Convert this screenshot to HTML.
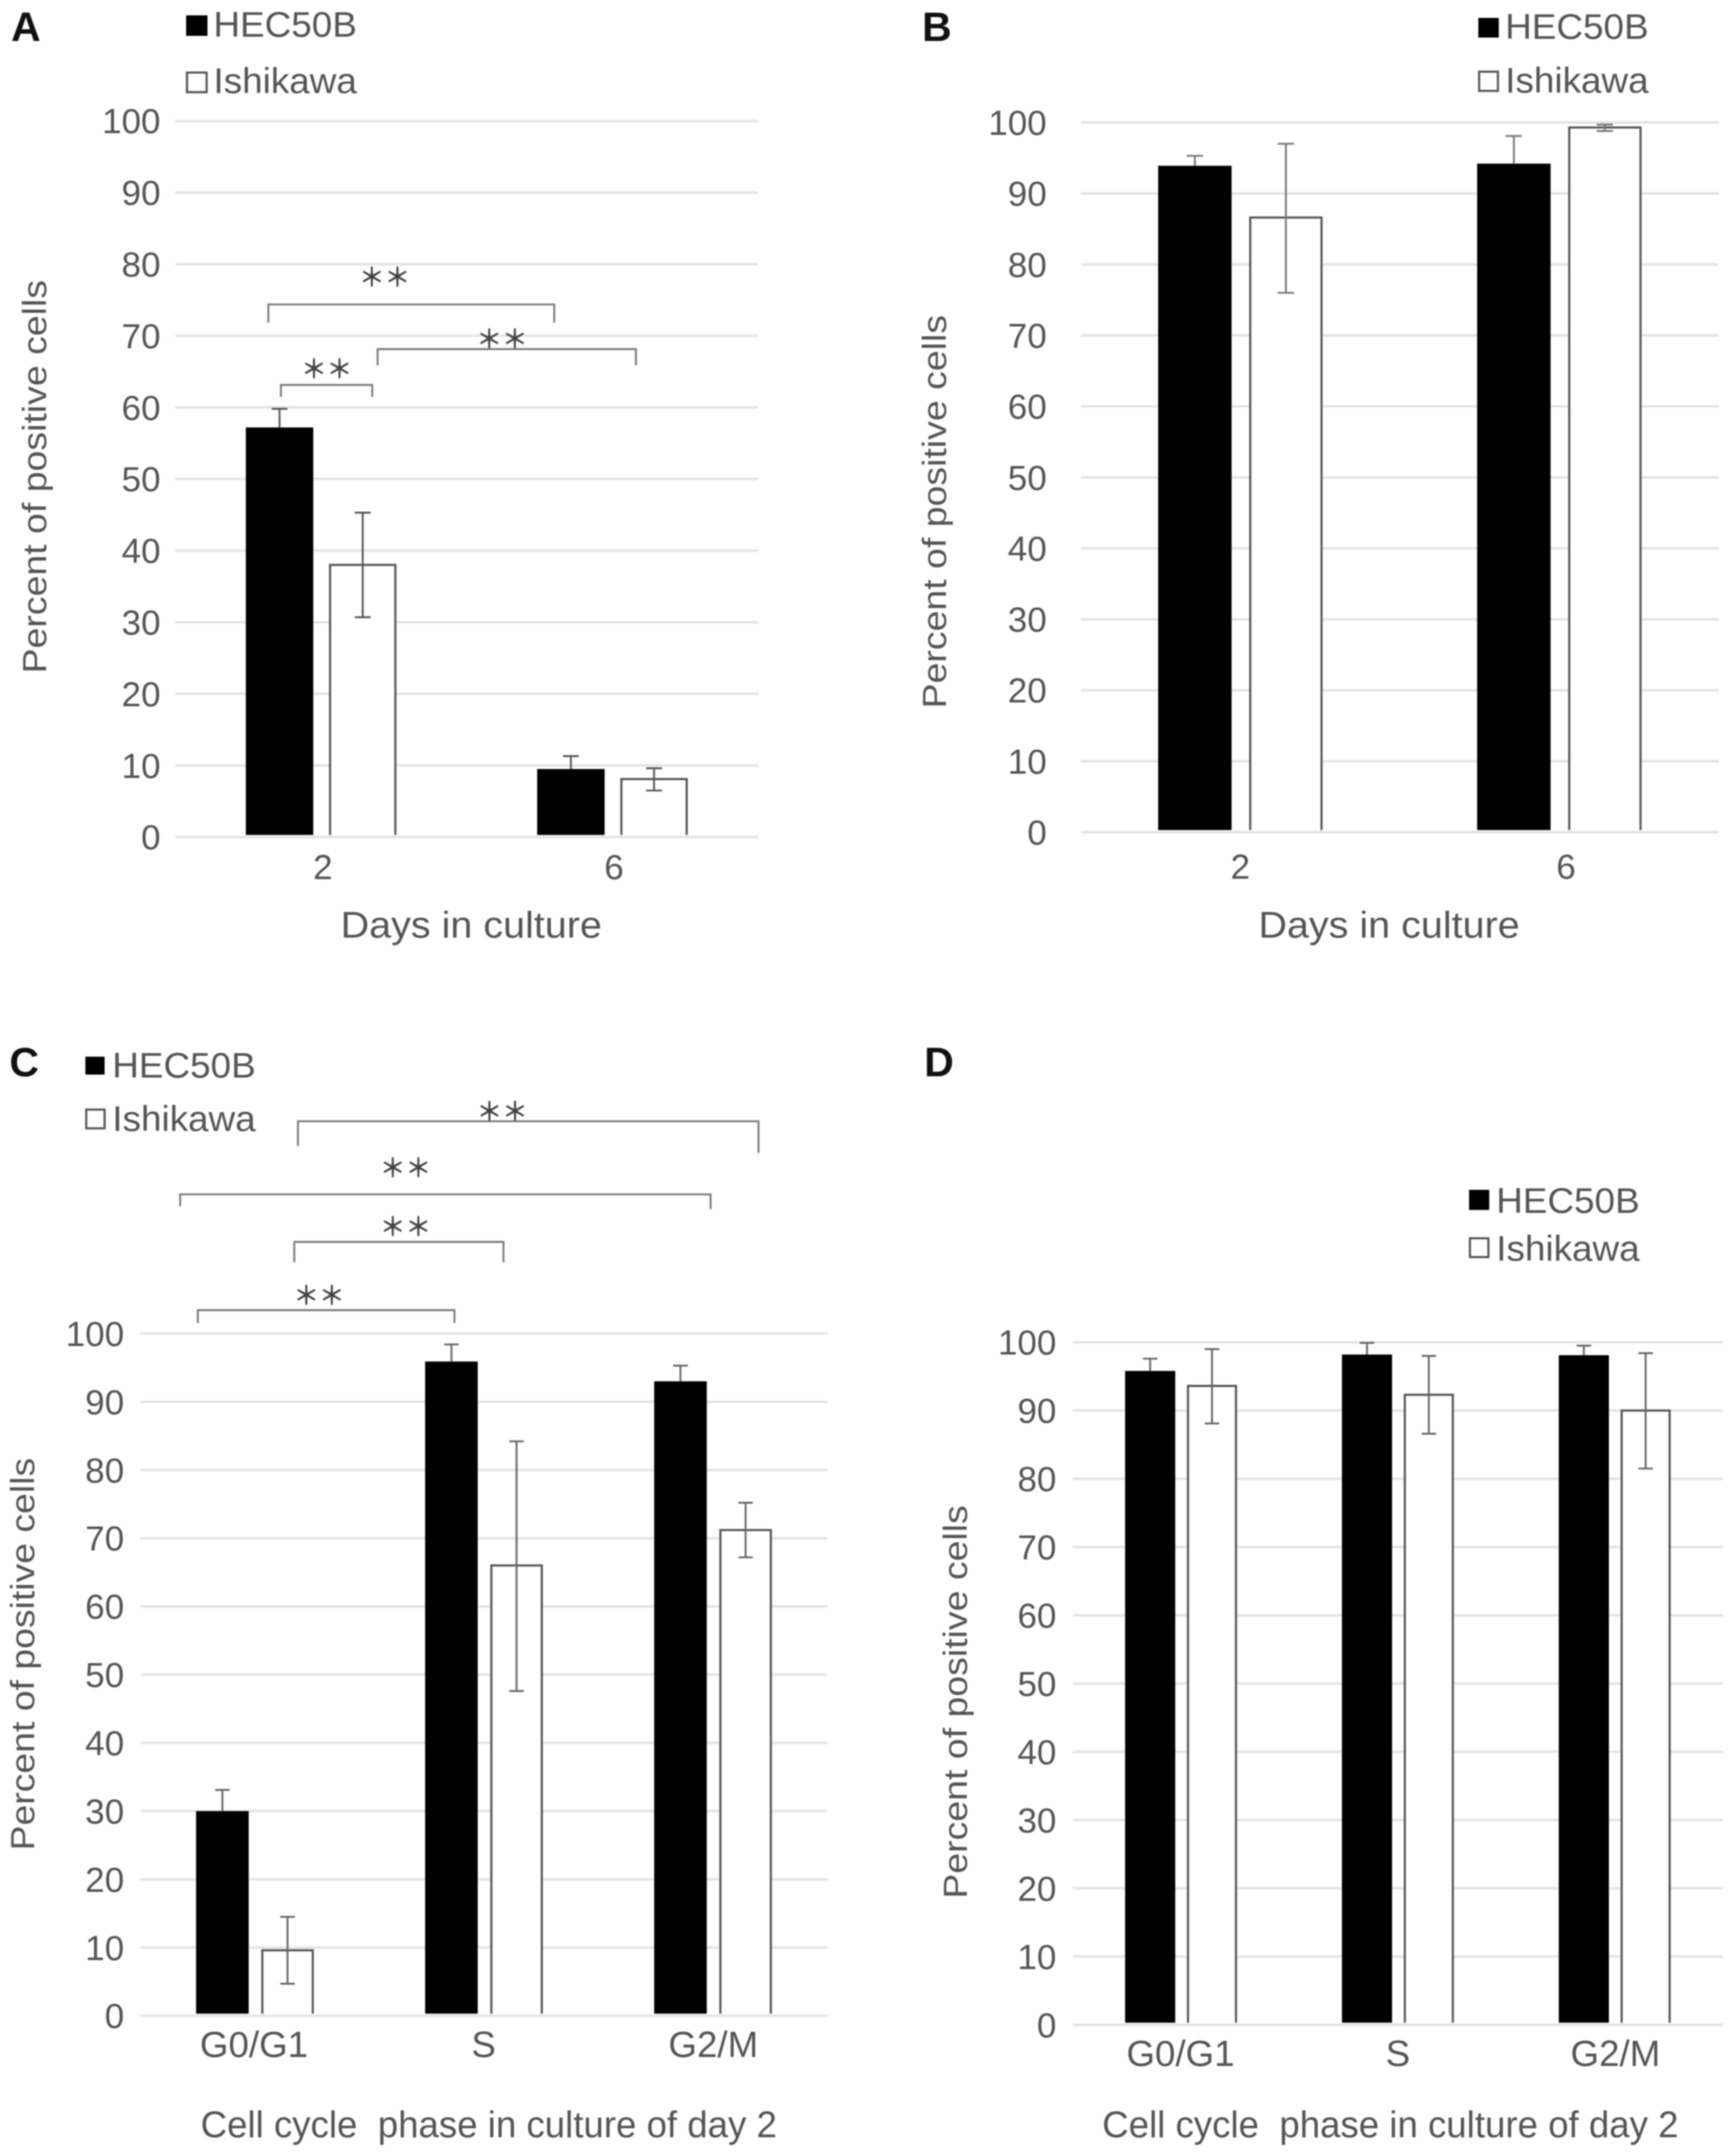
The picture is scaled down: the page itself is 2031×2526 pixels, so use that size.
<!DOCTYPE html>
<html lang="en">
<head>
<meta charset="utf-8">
<title>Percent of positive cells by cell line</title>
<style>
  html, body { margin: 0; padding: 0; background: #fff; }
  svg { display: block; filter: blur(0.7px); }
  text { font-family: "Liberation Sans", "Noto Sans CJK JP", sans-serif; fill: #555; }
  .panel-label { font-weight: bold; font-size: 48px; fill: #111; }
  .legend-text { font-size: 42px; }
  .title { font-size: 44px; }
  .y-title { font-size: 39px; text-anchor: middle; }
  .stars { font-size: 30px; text-anchor: middle; dominant-baseline: central; fill: #444; stroke: #444; stroke-width: 0.6; font-family: "Noto Sans CJK JP", "Liberation Sans", sans-serif; }
  .bracket { fill: none; stroke: #777; stroke-width: 2.2; }
  .swatch-black { fill: #000; }
  .swatch-white { fill: #fff; stroke: #555; stroke-width: 2.5; }
</style>
</head>
<body>
<svg id="figure" xmlns="http://www.w3.org/2000/svg" width="2031" height="2526" viewBox="0 0 2031 2526">
  <rect x="0" y="0" width="2031" height="2526" fill="#fff"/>

  <!-- Panel A -->
  <g id="panel-a">
    <text class="panel-label" x="13" y="48">A</text>
    <g>
      <rect class="swatch-black" x="218" y="18" width="25" height="24"/>
      <text class="legend-text" x="250" y="43" textLength="168" lengthAdjust="spacingAndGlyphs">HEC50B</text>
      <rect class="swatch-white" x="219" y="85" width="23" height="23"/>
      <text class="legend-text" x="250" y="109" textLength="168" lengthAdjust="spacingAndGlyphs">Ishikawa</text>
    </g>
    <text class="y-title" transform="translate(54 558.5) rotate(-90)" textLength="461" lengthAdjust="spacingAndGlyphs">Percent of positive cells</text>
    <text class="title" x="399" y="1098.5" textLength="306" lengthAdjust="spacingAndGlyphs">Days in culture</text>
    <g id="marks-a"></g>
    <g>
      <path class="bracket" d="M314.3 378V356.7H649.2V378"/>
      <text class="stars" x="450.5" y="322.7">＊＊</text>
      <path class="bracket" d="M329 465V451H436V465"/>
      <text class="stars" x="382.7" y="430">＊＊</text>
      <path class="bracket" d="M442.3 428V409H744.9V428"/>
      <text class="stars" x="588" y="395">＊＊</text>
    </g>
  </g>

  <!-- Panel B -->
  <g id="panel-b">
    <text class="panel-label" x="1080" y="48">B</text>
    <g>
      <rect class="swatch-black" x="1731.5" y="21" width="24" height="23"/>
      <text class="legend-text" x="1763" y="45.5" textLength="168" lengthAdjust="spacingAndGlyphs">HEC50B</text>
      <rect class="swatch-white" x="1732.5" y="84" width="22" height="22.5"/>
      <text class="legend-text" x="1763" y="108.7" textLength="168" lengthAdjust="spacingAndGlyphs">Ishikawa</text>
    </g>
    <text class="y-title" transform="translate(1108 599.5) rotate(-90)" textLength="461" lengthAdjust="spacingAndGlyphs">Percent of positive cells</text>
    <text class="title" x="1474" y="1098.5" textLength="306" lengthAdjust="spacingAndGlyphs">Days in culture</text>
    <g id="marks-b"></g>
  </g>

  <!-- Panel C -->
  <g id="panel-c">
    <text class="panel-label" x="11" y="1261">C</text>
    <g>
      <rect class="swatch-black" x="100" y="1238" width="22.5" height="21"/>
      <text class="legend-text" x="131.5" y="1262.7" textLength="168" lengthAdjust="spacingAndGlyphs">HEC50B</text>
      <rect class="swatch-white" x="101" y="1300" width="21.5" height="22"/>
      <text class="legend-text" x="131.5" y="1325" textLength="168" lengthAdjust="spacingAndGlyphs">Ishikawa</text>
    </g>
    <text class="y-title" transform="translate(40 1938) rotate(-90)" textLength="460" lengthAdjust="spacingAndGlyphs">Percent of positive cells</text>
    <text class="title" x="235" y="2504" textLength="675" lengthAdjust="spacingAndGlyphs">Cell cycle&#160; phase in culture of day 2</text>
    <g id="marks-c"></g>
    <g>
      <path class="bracket" d="M349 1342.7V1313.7H888.4V1350.7"/>
      <text class="stars" x="588.3" y="1300">＊＊</text>
      <path class="bracket" d="M211 1413.3V1399.3H832.3V1416.8"/>
      <text class="stars" x="475" y="1366">＊＊</text>
      <path class="bracket" d="M344.7 1479V1455H589.7V1479"/>
      <text class="stars" x="475" y="1435">＊＊</text>
      <path class="bracket" d="M231.7 1550V1535H532.3V1550"/>
      <text class="stars" x="373.7" y="1515.7">＊＊</text>
    </g>
  </g>

  <!-- Panel D -->
  <g id="panel-d">
    <text class="panel-label" x="1082.5" y="1261">D</text>
    <g>
      <rect class="swatch-black" x="1720.7" y="1394" width="23.6" height="23.6"/>
      <text class="legend-text" x="1752.5" y="1421" textLength="168" lengthAdjust="spacingAndGlyphs">HEC50B</text>
      <rect class="swatch-white" x="1721.7" y="1450.8" width="21.6" height="22"/>
      <text class="legend-text" x="1752.5" y="1477" textLength="168" lengthAdjust="spacingAndGlyphs">Ishikawa</text>
    </g>
    <text class="y-title" transform="translate(1132.5 1994) rotate(-90)" textLength="461" lengthAdjust="spacingAndGlyphs">Percent of positive cells</text>
    <text class="title" x="1291" y="2504" textLength="675" lengthAdjust="spacingAndGlyphs">Cell cycle&#160; phase in culture of day 2</text>
    <g id="marks-d"></g>
  </g>
</svg>

<script>
// ---- Chart data ----
const tickLabels = [0, 10, 20, 30, 40, 50, 60, 70, 80, 90, 100];

const categoriesDays = ['2', '6'];
const categoriesPhase = ['G0/G1', 'S', 'G2/M'];

const hecA = [57.2, 9.5];
const hecErrA = [2.6, 1.8];
const ishA = [38.0, 8.1];
const ishErrUpA = [7.3, 1.5];
const ishErrDownA = [7.3, 1.6];

const hecB = [93.9, 94.2];
const hecErrB = [1.4, 3.9];
const ishB = [86.6, 99.3];
const ishErrUpB = [10.4, 0.4];
const ishErrDownB = [10.6, 0.5];

const hecC = [30.0, 95.9, 93.0];
const hecErrC = [3.1, 2.5, 2.3];
const ishC = [9.6, 66.0, 71.2];
const ishErrUpC = [4.9, 18.2, 4.0];
const ishErrDownC = [4.9, 18.4, 4.0];

const hecD = [95.8, 98.2, 98.1];
const hecErrD = [1.8, 1.7, 1.4];
const ishD = [93.6, 92.3, 90.0];
const ishErrUpD = [5.4, 5.7, 8.4];
const ishErrDownD = [5.5, 5.7, 8.5];

// ---- Panel geometry ----
const layoutA = { left: 205.5, right: 888, top: 141.7, bottom: 980.7, barW: 79, offset: 48.7, cap: 18.5, tickRight: 188, tickSize: 41, labelX0: 378.2, labelStep: 341, labelY: 1030, labelSize: 41, errColor: '#555' };
const layoutB = { left: 1266, right: 2013.3, top: 143.5, bottom: 975, barW: 86, offset: 53.3, cap: 19, tickRight: 1226, tickSize: 41, labelX0: 1452.8, labelStep: 381.5, labelY: 1029.5, labelSize: 41, errColor: '#777' };
const layoutC = { left: 164.5, right: 969.3, top: 1562.4, bottom: 2361.7, barW: 61.6, offset: 38.15, cap: 17, tickRight: 145.4, tickSize: 41, labelX0: 297.5, labelStep: 269, labelY: 2410, labelSize: 43, errColor: '#666' };
const layoutD = { left: 1256.4, right: 2018.3, top: 1572.6, bottom: 2372.3, barW: 58.7, offset: 36.2, cap: 17, tickRight: 1237.3, tickSize: 41, labelX0: 1382.7, labelStep: 254.7, labelY: 2420.7, labelSize: 43, errColor: '#666' };

const SVG_NS = 'http://www.w3.org/2000/svg';

function make(tag, props) {
  const el = document.createElementNS(SVG_NS, tag);
  Object.keys(props).forEach(function (k) { el.setAttribute(k, props[k]); });
  return el;
}

function drawPanel(panelId, layout, categories, hec, hecErr, ish, ishErrUp, ishErrDown) {
  const root = document.getElementById(panelId);
  const yScale = function (v) { return layout.bottom - (v / 100) * (layout.bottom - layout.top); };
  const band = (layout.right - layout.left) / categories.length;
  const xCenter = function (i) { return layout.left + band * (i + 0.5); };

  tickLabels.forEach(function (t) {
    const y = yScale(t);
    const grid = make('line', { x1: layout.left, x2: layout.right, y1: y, y2: y, stroke: '#e4e4e4', 'stroke-width': 3 });
    
    
    root.appendChild(grid);

    const label = make('text', { x: layout.tickRight, y: y + 14.5, 'text-anchor': 'end', 'font-size': layout.tickSize });
    
    
    label.textContent = String(t);
    root.appendChild(label);
  });

  function errorBar(x, hi, lo, showLowerCap, name) {
    const g = make('g', { stroke: layout.errColor, 'stroke-width': 2.2, fill: 'none' });
    
    
    const half = layout.cap / 2;
    g.appendChild(make('line', { x1: x, x2: x, y1: yScale(hi), y2: yScale(lo) }));
    g.appendChild(make('line', { x1: x - half, x2: x + half, y1: yScale(hi), y2: yScale(hi) }));
    if (showLowerCap) {
      g.appendChild(make('line', { x1: x - half, x2: x + half, y1: yScale(lo), y2: yScale(lo) }));
    }
    root.appendChild(g);
  }

  categories.forEach(function (cat, i) {
    const hx = xCenter(i) - layout.offset;
    const ix = xCenter(i) + layout.offset;
    const barBase = yScale(0) - 2.5;

    const hecBar = make('rect', { x: hx - layout.barW / 2, y: yScale(hec[i]), width: layout.barW, height: barBase - yScale(hec[i]), fill: '#000' });
    
    
    root.appendChild(hecBar);
    errorBar(hx, hec[i] + hecErr[i], hec[i], false, 'error-bar-hec50b-' + cat);

    const x0 = ix - layout.barW / 2 + 1.25;
    const x1 = ix + layout.barW / 2 - 1.25;
    const ishBar = make('path', { d: 'M' + x0 + ' ' + barBase + 'V' + yScale(ish[i]) + 'H' + x1 + 'V' + barBase, fill: '#fff', stroke: '#555', 'stroke-width': 2.5 });
    
    
    root.appendChild(ishBar);
    errorBar(ix, ish[i] + ishErrUp[i], ish[i] - ishErrDown[i], true, 'error-bar-ishikawa-' + cat);

    const label = make('text', { x: layout.labelX0 + layout.labelStep * i, y: layout.labelY, 'text-anchor': 'middle', 'font-size': layout.labelSize });
    
    
    label.textContent = cat;
    root.appendChild(label);
  });
}

drawPanel('marks-a', layoutA, categoriesDays, hecA, hecErrA, ishA, ishErrUpA, ishErrDownA);
drawPanel('marks-b', layoutB, categoriesDays, hecB, hecErrB, ishB, ishErrUpB, ishErrDownB);
drawPanel('marks-c', layoutC, categoriesPhase, hecC, hecErrC, ishC, ishErrUpC, ishErrDownC);
drawPanel('marks-d', layoutD, categoriesPhase, hecD, hecErrD, ishD, ishErrUpD, ishErrDownD);
</script>
</body>
</html>
